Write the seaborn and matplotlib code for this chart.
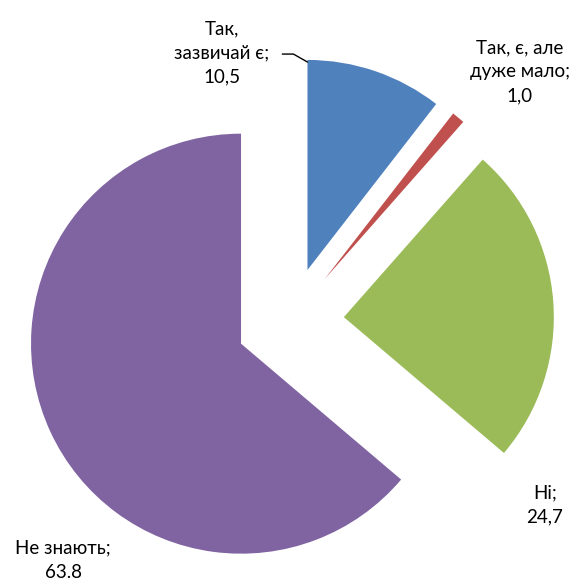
#!/usr/bin/env python3
import numpy as np
import seaborn as sns
import matplotlib.pyplot as plt

categories = ['Так,\nзазвичай є;', 'Так, є, але\nдуже мало;', 'Ні;', 'Не знають;']
values = [10.5, 1.0, 24.7, 63.8]
value_labels = ['10,5', '1,0', '24,7', '63.8']
colors = ['#4F81BD', '#C0504D', '#9BBB59', '#8064A2']

# label centres in figure pixels (from top-left)
label_px = [(222, 53), (520, 72), (545, 505), (63, 560)]

W, H = 583, 584
CX, CY, R = 290, 321, 210


def px2data(px, py):
    return (px - CX) / R, (CY - py) / R


sns.set_theme(style='white')
plt.rcParams['font.family'] = ['Lato', 'Noto Sans', 'DejaVu Sans']

fig = plt.figure(figsize=(W / 100, H / 100), dpi=100)
ax = fig.add_axes([0, 0, 1, 1])

wedges, _ = ax.pie(values, colors=colors, startangle=90, counterclock=False,
                   explode=[0.257] * len(values), radius=1,
                   wedgeprops=dict(linewidth=0))

ax.set_aspect('auto')
ax.set_xlim(-CX / R, (W - CX) / R)
ax.set_ylim(-(H - CY) / R, CY / R)
ax.axis('off')

for cat, lab, (px, py) in zip(categories, value_labels, label_px):
    x, y = px2data(px, py)
    ax.text(x, y, cat + '\n' + lab, ha='center', va='center', fontsize=13.5,
            color='black', linespacing=1.5)

# leader line for the first slice
w = wedges[0]
t = np.deg2rad(w.theta2)
x0 = w.center[0] + w.r * np.cos(t)
y0 = w.center[1] + w.r * np.sin(t) - 0.01
ax.plot([x0, x0 - 0.067, x0 - 0.12], [y0, y0 + 0.038, y0 + 0.038],
        color='black', linewidth=1)

fig.savefig('out.png', dpi=100)
